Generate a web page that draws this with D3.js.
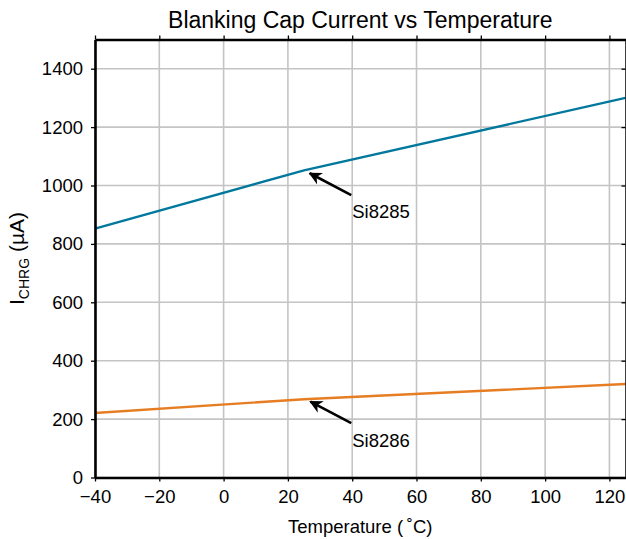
<!DOCTYPE html>
<html>
<head>
<meta charset="utf-8">
<script src="https://cdn.jsdelivr.net/npm/d3@7"></script>
<style>
  body { margin: 0; background: #fff; }
  svg { font-family: "Liberation Sans", Arial, sans-serif; }
</style>
</head>
<body>
<svg id="drawing_region"></svg>
<script>
// data
const temps = [-40, 25, 125];
const si8285 = [852, 1052, 1300];
const si8286 = [221, 268, 320];
const xTicks = [-40, -20, 0, 20, 40, 60, 80, 100, 120];
const yTicks = [0, 200, 400, 600, 800, 1000, 1200, 1400];
// annotations in data units
const notes = [
    { label: 'Si8285', tip: [26.8, 1042], tail: [39.7, 967], text: [40, 888] },
    { label: 'Si8286', tip: [27, 260], tail: [39.7, 186], text: [40, 106] }
];

const config = {
    width: 626,
    height: 539,
    margin: { top: 39.5, right: 0.5, bottom: 61.5, left: 95 }
};

const svg = d3.select('#drawing_region')
    .attr('width', config.width)
    .attr('height', config.height);

const inner_width = config.width - config.margin.left - config.margin.right;
const inner_height = config.height - config.margin.top - config.margin.bottom;

const chart = svg.append('g')
    .attr('transform', `translate(${config.margin.left}, ${config.margin.top})`);

const xscale = d3.scaleLinear().domain([-40, 125]).range([0, inner_width]);
const yscale = d3.scaleLinear().domain([0, 1500]).range([inner_height, 0]);

// grid
chart.append('g')
    .selectAll('line')
    .data(xTicks)
    .join('line')
    .attr('x1', d => xscale(d)).attr('x2', d => xscale(d))
    .attr('y1', 0).attr('y2', inner_height)
    .attr('stroke', '#c4c4c4').attr('stroke-width', 1.6);
chart.append('g')
    .selectAll('line')
    .data(yTicks)
    .join('line')
    .attr('x1', 0).attr('x2', inner_width)
    .attr('y1', d => yscale(d)).attr('y2', d => yscale(d))
    .attr('stroke', '#c4c4c4').attr('stroke-width', 1.6);

// series
const line = d3.line()
    .x(d => xscale(d[0]))
    .y(d => yscale(d[1]));

chart.append('path')
    .datum(temps.map((t, i) => [t, si8285[i]]))
    .attr('d', line)
    .attr('fill', 'none')
    .attr('stroke', '#00789d')
    .attr('stroke-width', 2.4);

chart.append('path')
    .datum(temps.map((t, i) => [t, si8286[i]]))
    .attr('d', line)
    .attr('fill', 'none')
    .attr('stroke', '#e67d22')
    .attr('stroke-width', 2.4);

// axes
const fmt = d => d < 0 ? '\u2212' + Math.abs(d) : '' + d;
const xaxis = d3.axisBottom(xscale).tickValues(xTicks).tickFormat(fmt).tickSize(4).tickSizeOuter(0).tickPadding(8);
const yaxis = d3.axisLeft(yscale).tickValues(yTicks).tickFormat(d3.format('d')).tickSize(4).tickSizeOuter(0).tickPadding(8);
const xaxis_top = d3.axisTop(xscale).tickValues(xTicks).tickFormat('').tickSize(4).tickSizeOuter(0);
const yaxis_right = d3.axisRight(yscale).tickValues(yTicks).tickFormat('').tickSize(-4).tickSizeOuter(0);

const styleAxis = g => {
    g.select('.domain').attr('stroke', '#000').attr('stroke-width', 2.6);
    g.selectAll('.tick line').attr('stroke', '#000').attr('stroke-width', 1.3);
    g.selectAll('.tick text').attr('font-size', 18.5).attr('fill', '#000')
        .attr('font-family', '"Liberation Sans", Arial, sans-serif');
};

chart.append('g').attr('transform', `translate(0, ${inner_height})`).call(xaxis).call(styleAxis);
chart.append('g').call(yaxis).call(styleAxis);
chart.append('g').call(xaxis_top).call(styleAxis);
chart.append('g').attr('transform', `translate(${inner_width}, 0)`).call(yaxis_right).call(styleAxis)
    .select('.domain').attr('stroke-width', 1.5);

// annotations
svg.append('defs').append('marker')
    .attr('id', 'arrow')
    .attr('viewBox', '0 0 10 10')
    .attr('refX', 9).attr('refY', 5)
    .attr('markerWidth', 5).attr('markerHeight', 5)
    .attr('orient', 'auto')
    .append('path')
    .attr('d', 'M0,0 L10,5 L0,10 L3,5 Z')
    .attr('fill', '#000');

notes.forEach(n => {
    chart.append('line')
        .attr('x1', xscale(n.tail[0])).attr('y1', yscale(n.tail[1]))
        .attr('x2', xscale(n.tip[0])).attr('y2', yscale(n.tip[1]))
        .attr('stroke', '#000').attr('stroke-width', 2.6)
        .attr('marker-end', 'url(#arrow)');
    chart.append('text')
        .attr('x', xscale(n.text[0])).attr('y', yscale(n.text[1]))
        .attr('font-size', 18.5)
        .text(n.label);
});

// title and labels
svg.append('text')
    .attr('x', config.margin.left + inner_width / 2).attr('y', 28)
    .attr('text-anchor', 'middle')
    .attr('font-size', 23)
    .text('Blanking Cap Current vs Temperature');

svg.append('text')
    .attr('x', config.margin.left + inner_width / 2).attr('y', 533)
    .attr('text-anchor', 'middle')
    .attr('font-size', 18.5)
    .text('Temperature (\u2009\u02DAC)');

const ylab = svg.append('text')
    .attr('transform', `translate(24, ${config.margin.top + inner_height / 2}) rotate(-90)`)
    .attr('text-anchor', 'middle')
    .attr('font-size', 21);
ylab.append('tspan').text('I');
ylab.append('tspan').attr('font-size', 14).attr('dy', 5).text('CHRG');
ylab.append('tspan').attr('dy', -5).text(' (\u00B5A)');
</script>
</body>
</html>
